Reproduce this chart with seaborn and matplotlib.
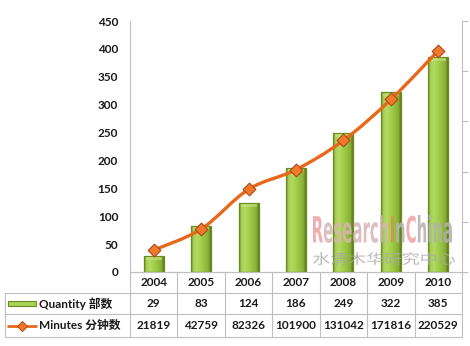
import numpy as np
import pandas as pd
import matplotlib
matplotlib.use("Agg")
import matplotlib.pyplot as plt
import seaborn as sns
from matplotlib.path import Path
from matplotlib.patches import PathPatch, Rectangle
from matplotlib.textpath import TextPath
from matplotlib.font_manager import FontProperties
from matplotlib.transforms import Affine2D, IdentityTransform, blended_transform_factory
from matplotlib.colors import LinearSegmentedColormap

# ---- data ----
years = ["2004", "2005", "2006", "2007", "2008", "2009", "2010"]
quantity = [29, 83, 124, 186, 249, 322, 385]
minutes = [21819, 42759, 82326, 101900, 131042, 171816, 220529]
row_labels = ["Quantity 部数", "Minutes 分钟数"]
left_ticks = [0, 50, 100, 150, 200, 250, 300, 350, 400, 450]
right_ticks = [0, 50000, 100000, 150000, 200000, 250000]

sns.set_theme(style="white")
plt.rcParams["font.family"] = ["Lato", "Noto Sans CJK SC", "DejaVu Sans"]

W, H = 470, 346
fig = plt.figure(figsize=(W / 100, H / 100), dpi=100)
fig.patch.set_facecolor("white")
L, R, B, T = 130, 462, 272, 21
ax = fig.add_axes([L / W, 1 - B / H, (R - L) / W, (B - T) / H])

GRID = "#bfbfbf"
GREEN_EDGE = "#6b8a22"
ORANGE = "#e8681a"

df = pd.DataFrame({"year": years, "quantity": quantity})
sns.barplot(data=df, x="year", y="quantity", color="#9bc43c", width=0.42,
            saturation=1, edgecolor=GREEN_EDGE, linewidth=0.9, ax=ax, zorder=2)

# cylinder-like shading on each bar
bar_cmap = LinearSegmentedColormap.from_list(
    "bar", [(0, "#6f9024"), (0.12, "#a6d058"), (0.3, "#b2da62"),
            (0.6, "#9cc843"), (0.88, "#88b034"), (1, "#5e7c1b")])
for p in list(ax.patches):
    x, w, h = p.get_x(), p.get_width(), p.get_height()
    img = ax.imshow(np.linspace(0, 1, 64)[None, :], extent=[x, x + w, 0, h],
                    aspect="auto", cmap=bar_cmap, zorder=1.9, interpolation="bilinear")
    img.set_clip_path(p)
    p.set_facecolor("none")
    ax.add_patch(Rectangle((x + w * 0.1, h - 7), w * 0.8, 5, facecolor="#cbe88a",
                           edgecolor="none", alpha=0.55, zorder=2.1))

ax.set_xlim(-0.5, 6.5)
ax.set_ylim(0, 450)
ax.set_yticks(left_ticks)
ax.set_yticklabels([str(v) for v in left_ticks], fontsize=8.5, fontweight="bold", color="#1a1a1a")
ax.set_xticks([])
ax.set_xlabel("")
ax.set_ylabel("")
ax.tick_params(axis="y", length=0, pad=8.5)
for s in ["top", "right"]:
    ax.spines[s].set_visible(False)
for s in ["left", "bottom"]:
    ax.spines[s].set_color(GRID)
    ax.spines[s].set_linewidth(0.8)

# secondary axis for minutes
ax2 = ax.twinx()
ax2.set_xlim(-0.5, 6.5)
ax2.set_ylim(0, 250000)
ax2.set_yticks(right_ticks)
ax2.set_yticklabels([])
ax2.tick_params(axis="y", direction="out", length=4, color=GRID, width=0.8)
for s in ["top", "left", "bottom"]:
    ax2.spines[s].set_visible(False)
ax2.spines["right"].set_color(GRID)
ax2.spines["right"].set_linewidth(0.8)

# smoothed line through the minutes values (Catmull-Rom as cubic Beziers)
xs = np.arange(len(minutes), dtype=float)
ys = np.array(minutes, dtype=float)
pts = np.column_stack([xs, ys])
verts = [tuple(pts[0])]
codes = [Path.MOVETO]
n = len(pts)
for i in range(n - 1):
    p0 = pts[max(i - 1, 0)]
    p1 = pts[i]
    p2 = pts[i + 1]
    p3 = pts[min(i + 2, n - 1)]
    c1 = p1 + (p2 - p0) / 6.0
    c2 = p2 - (p3 - p1) / 6.0
    verts += [tuple(c1), tuple(c2), tuple(p2)]
    codes += [Path.CURVE4] * 3
ax2.add_patch(PathPatch(Path(verts, codes), facecolor="none", edgecolor=ORANGE,
                        linewidth=2.4, capstyle="round", zorder=3))
sns.scatterplot(x=xs, y=ys, marker="D", s=42, color="#f07a2a", edgecolor="#b0471a",
                linewidth=0.8, ax=ax2, zorder=5, legend=False)
ax2.set_xlim(-0.5, 6.5)
ax2.set_ylim(0, 250000)

# ---- data table below the plot ----
tr = blended_transform_factory(ax.transData, ax.transAxes)
ax_h = B - T
ax_w = R - L


def fy(py):
    return -(py - B) / ax_h


def fx(px):
    return (px - L) / ax_w


rows_y = [B, 292.5, 314.3, 336.7]
label_left = fx(5)
line_kw = dict(color=GRID, lw=0.8, clip_on=False, zorder=1)
for k, py in enumerate(rows_y):
    x0 = 0 if k == 0 else label_left
    ax.plot([x0, 1.0], [fy(py), fy(py)], transform=ax.transAxes, **line_kw)
for i in range(len(years) + 1):
    ax.plot([i - 0.5, i - 0.5], [0, fy(rows_y[-1])], transform=tr, **line_kw)
ax.plot([label_left, label_left], [fy(rows_y[1]), fy(rows_y[-1])], transform=ax.transAxes, **line_kw)

txt_kw = dict(fontsize=8.5, fontweight="bold", color="#1a1a1a", ha="center", va="center",
              clip_on=False)
mid = [(rows_y[k] + rows_y[k + 1]) / 2 for k in range(3)]
for i, yr in enumerate(years):
    ax.text(i, fy(mid[0]), yr, transform=tr, **txt_kw)
    ax.text(i, fy(mid[1]), str(quantity[i]), transform=tr, **txt_kw)
    ax.text(i, fy(mid[2]), str(minutes[i]), transform=tr, **txt_kw)

# row legends
ax.add_patch(Rectangle((fx(8), fy(306)), 28 / ax_w, 5 / ax_h, transform=ax.transAxes,
                       facecolor="#a8d45a", edgecolor=GREEN_EDGE, lw=0.8, clip_on=False))
ax.plot([fx(7), fx(37)], [fy(mid[2]), fy(mid[2])], transform=ax.transAxes, color=ORANGE,
        lw=2, clip_on=False, solid_capstyle="butt")
ax.plot([fx(22)], [fy(mid[2])], transform=ax.transAxes, marker="D", ms=5.5,
        mfc="#f07a2a", mec="#b0471a", mew=0.7, clip_on=False)
for k, lab in enumerate(row_labels):
    ax.text(fx(39), fy(mid[k + 1]), lab, transform=ax.transAxes, fontsize=8.5,
            fontweight="bold", color="#1a1a1a", ha="left", va="center", clip_on=False)


# ---- watermark ----
def stretched(segments, prop, box, alpha=0.85):
    """Draw coloured text segments stretched to fill a pixel box (x0, x1, ytop, ybottom)."""
    full = "".join(s for s, _ in segments)
    ext = TextPath((0, 0), full, size=10, prop=prop).get_extents()
    x0, x1, ytop, ybot = box
    sx = (x1 - x0) / ext.width
    sy = (ybot - ytop) / ext.height
    bar_w = TextPath((0, 0), "|", size=10, prop=prop).get_extents().x1
    prefix = ""
    for s, col in segments:
        off = 0.0
        if prefix:
            off = TextPath((0, 0), prefix + "|", size=10, prop=prop).get_extents().x1 - bar_w
        tp = TextPath((off, 0), s, size=10, prop=prop)
        trans = Affine2D().translate(-ext.x0, -ext.y0).scale(sx, sy).translate(x0, H - ybot)
        fig.patches.append(PathPatch(tp, transform=trans + IdentityTransform(),
                                     facecolor=col, edgecolor="none", alpha=alpha,
                                     zorder=10, figure=fig))
        prefix += s


stretched([("R", "#f0a0a0"), ("esearch", "#d8b4b4"), ("I", "#d4924e"), ("n", "#b5b5b5"),
           ("C", "#f0a0a0"), ("hina", "#b0b0b0")],
          FontProperties(family="DejaVu Sans", weight="bold"), (313, 452, 215, 243))
stretched([("水清木华研究中心", "#a8a8a8")],
          FontProperties(family="Noto Sans CJK SC"), (313, 455, 252, 265), alpha=0.8)

fig.savefig("out.png", dpi=100, facecolor="white")
